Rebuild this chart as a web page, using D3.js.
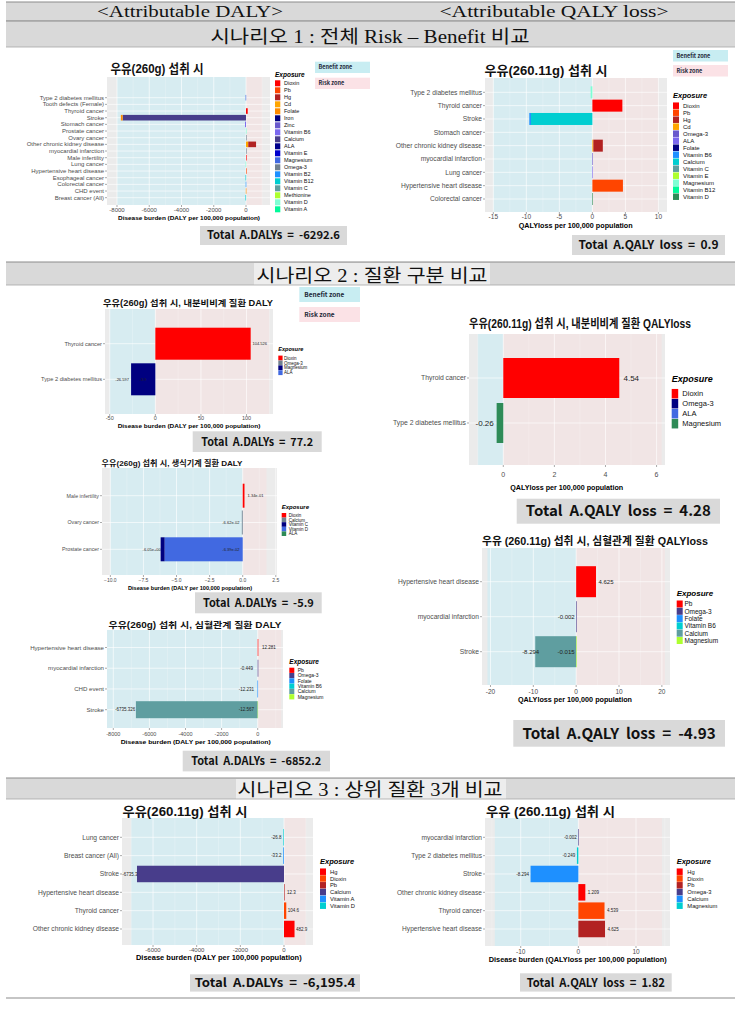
<!DOCTYPE html>
<html>
<head>
<meta charset="utf-8">
<script src="https://cdn.jsdelivr.net/npm/d3@7"></script>
<style>
  body { margin: 0; background: #fff; }
  text { white-space: pre; }
</style>
</head>
<body>
<svg id="fig" width="741" height="1013"></svg>
<script>

// ---------------- data ----------------

// scenario 1, DALY (all diseases)
var s1dCats = ["Type 2 diabetes mellitus", "Tooth defects (Female)", "Thyroid cancer", "Stroke",
  "Stomach cancer", "Prostate cancer", "Ovary cancer", "Other chronic kidney disease",
  "myocardial infarction", "Male infertility", "Lung cancer", "Hypertensive heart disease",
  "Esophageal cancer", "Colorectal cancer", "CHD event", "Breast cancer (All)"];
var s1dExposure = ["Dioxin", "Pb", "Hg", "Cd", "Folate", "Iron", "Zinc", "Vitamin B6", "Calcium", "ALA",
  "Vitamin E", "Magnesium", "Omega-3", "Vitamin B2", "Vitamin B12", "Vitamin C", "Methionine", "Vitamin D", "Vitamin A"];
var s1dBars = [
  ["Type 2 diabetes mellitus", "Magnesium", -26.6],
  ["Thyroid cancer", "Dioxin", 104.5],
  ["Stroke", "Calcium", -7650],
  ["Stroke", "Folate", -110],
  ["Stomach cancer", "Vitamin B6", -60],
  ["Prostate cancer", "Vitamin D", -6.0],
  ["Ovary cancer", "Omega-3", -0.07],
  ["Other chronic kidney disease", "Cd", 140],
  ["Other chronic kidney disease", "Hg", 482.9],
  ["myocardial infarction", "Omega-3", -0.45],
  ["Male infertility", "Dioxin", 0.13],
  ["Lung cancer", "Vitamin D", -26.8],
  ["Hypertensive heart disease", "Pb", 12.3],
  ["Esophageal cancer", "Vitamin B12", -30],
  ["Colorectal cancer", "Vitamin B2", -20],
  ["CHD event", "Folate", -12.2],
  ["Breast cancer (All)", "Vitamin B12", -33.2]
];
var s1dTicks = [-8000, -6000, -4000, -2000, 0];

// scenario 1, QALY loss (all diseases)
var s1qCats = ["Type 2 diabetes mellitus", "Thyroid cancer", "Stroke", "Stomach cancer",
  "Other chronic kidney disease", "myocardial infarction", "Lung cancer",
  "Hypertensive heart disease", "Colorectal cancer"];
var s1qExposure = ["Dioxin", "Pb", "Hg", "Cd", "Omega-3", "ALA", "Folate", "Vitamin B6", "Calcium",
  "Vitamin C", "Vitamin E", "Magnesium", "Vitamin B12", "Vitamin D"];
var s1qBars = [
  ["Type 2 diabetes mellitus", "Magnesium", -0.26],
  ["Thyroid cancer", "Dioxin", 4.54],
  ["Stroke", "Calcium", -9.3],
  ["Stroke", "Vitamin B6", -0.25],
  ["Other chronic kidney disease", "Cd", 0.15],
  ["Other chronic kidney disease", "Hg", 1.43],
  ["myocardial infarction", "Omega-3", -0.002],
  ["Lung cancer", "ALA", -0.03],
  ["Hypertensive heart disease", "Pb", 4.625],
  ["Colorectal cancer", "Vitamin D", -0.03]
];
var s1qTicks = [-15, -10, -5, 0, 5, 10];

// scenario 2, endocrine DALY
var s2eCats = ["Thyroid cancer", "Type 2 diabetes mellitus"];
var s2eExposure = ["Dioxin", "Omega-3", "Magnesium", "ALA"];
var s2eBars = [
  ["Thyroid cancer", "Dioxin", 104.526],
  ["Type 2 diabetes mellitus", "Magnesium", -26.597]
];
var s2eLabels = [["Thyroid cancer", "104.526"], ["Type 2 diabetes mellitus", "-26.597"], ["Type 2 diabetes mellitus", "-3.9"]];
var s2eTicks = [-50, 0, 50, 100];

// scenario 2, reproductive DALY
var s2rCats = ["Male infertility", "Ovary cancer", "Prostate cancer"];
var s2rExposure = ["Dioxin", "Calcium", "Vitamin C", "Vitamin D", "ALA"];
var s2rBars = [
  ["Male infertility", "Dioxin", 0.134],
  ["Ovary cancer", "Calcium", -0.0662],
  ["Prostate cancer", "Vitamin D", -5.9],
  ["Prostate cancer", "Vitamin C", -0.3]
];
var s2rLabels = [["Male infertility", "1.34e-01"], ["Ovary cancer", "-6.62e-02"],
  ["Prostate cancer", "-6.05e+00"], ["Prostate cancer", "-6.39e-02"]];
var s2rTicks = [-10, -7.5, -5, -2.5, 0, 2.5];

// scenario 2, cardiovascular DALY
var s2cCats = ["Hypertensive heart disease", "myocardial infarction", "CHD event", "Stroke"];
var s2cExposure = ["Pb", "Omega-3", "Folate", "Vitamin B6", "Calcium", "Magnesium"];
var s2cBars = [
  ["Hypertensive heart disease", "Pb", 12.281],
  ["myocardial infarction", "Omega-3", -0.449],
  ["CHD event", "Folate", -12.231],
  ["Stroke", "Magnesium", -12.567],
  ["Stroke", "Calcium", -6735.326]
];
var s2cLabels = [["Hypertensive heart disease", "12.281"], ["myocardial infarction", "-0.449"],
  ["CHD event", "-12.231"], ["Stroke", "-12.567"], ["Stroke", "-6735.326"]];
var s2cTicks = [-8000, -6000, -4000, -2000, 0];

// scenario 2, endocrine QALY loss
var s2eqCats = ["Thyroid cancer", "Type 2 diabetes mellitus"];
var s2eqExposure = ["Dioxin", "Omega-3", "ALA", "Magnesium"];
var s2eqBars = [
  ["Thyroid cancer", "Dioxin", 4.54],
  ["Type 2 diabetes mellitus", "Magnesium", -0.26]
];
var s2eqLabels = [["Thyroid cancer", "4.54"], ["Type 2 diabetes mellitus", "-0.26"]];
var s2eqTicks = [0, 2, 4, 6];

// scenario 2, cardiovascular QALY loss
var s2cqCats = ["Hypertensive heart disease", "myocardial infarction", "Stroke"];
var s2cqExposure = ["Pb", "Omega-3", "Folate", "Vitamin B6", "Calcium", "Magnesium"];
var s2cqBars = [
  ["Hypertensive heart disease", "Pb", 4.625],
  ["myocardial infarction", "Omega-3", -0.002],
  ["Stroke", "Magnesium", -0.015],
  ["Stroke", "Calcium", -9.538]
];
var s2cqLabels = [["Hypertensive heart disease", "4.625"], ["myocardial infarction", "-0.002"],
  ["Stroke", "-8.294"], ["Stroke", "-0.015"]];
var s2cqTicks = [-20, -10, 0, 10, 20];

// scenario 3, top 3 diseases DALY
var s3dCats = ["Lung cancer", "Breast cancer (All)", "Stroke", "Hypertensive heart disease",
  "Thyroid cancer", "Other chronic kidney disease"];
var s3dExposure = ["Hg", "Dioxin", "Pb", "Calcium", "Vitamin A", "Vitamin D"];
var s3dBars = [
  ["Lung cancer", "Vitamin D", -26.8],
  ["Breast cancer (All)", "Vitamin A", -33.2],
  ["Stroke", "Calcium", -6735.3],
  ["Hypertensive heart disease", "Pb", 12.3],
  ["Thyroid cancer", "Dioxin", 104.6],
  ["Other chronic kidney disease", "Hg", 482.9]
];
var s3dLabels = [["Lung cancer", "-26.8"], ["Breast cancer (All)", "-33.2"], ["Stroke", "-6735.3"],
  ["Hypertensive heart disease", "12.3"], ["Thyroid cancer", "104.6"], ["Other chronic kidney disease", "482.9"]];
var s3dTicks = [-6000, -4000, -2000, 0];

// scenario 3, top 3 diseases QALY loss
var s3qCats = ["myocardial infarction", "Type 2 diabetes mellitus", "Stroke",
  "Other chronic kidney disease", "Thyroid cancer", "Hypertensive heart disease"];
var s3qExposure = ["Hg", "Dioxin", "Pb", "Omega-3", "Calcium", "Magnesium"];
var s3qBars = [
  ["myocardial infarction", "Omega-3", -0.002],
  ["Type 2 diabetes mellitus", "Magnesium", -0.249],
  ["Stroke", "Calcium", -8.294],
  ["Other chronic kidney disease", "Hg", 1.209],
  ["Thyroid cancer", "Dioxin", 4.539],
  ["Hypertensive heart disease", "Pb", 4.625]
];
var s3qLabels = [["myocardial infarction", "-0.002"], ["Type 2 diabetes mellitus", "-0.249"],
  ["Stroke", "-8.294"], ["Other chronic kidney disease", "1.209"], ["Thyroid cancer", "4.539"],
  ["Hypertensive heart disease", "4.625"]];
var s3qTicks = [-10, 0, 10];

// ---------------- colours (per chart, same order as exposure lists) ----------------
var s1dColors = ["#FF0000", "#FF4500", "#B22222", "#FFA500", "#FF8C00", "#000080", "#6A5ACD", "#7B68EE",
  "#483D8B", "#00008B", "#0000CD", "#4169E1", "#708090", "#1E90FF", "#00CED1", "#5F9EA0", "#ADFF2F", "#7FFFD4", "#00FA9A"];
var s1qColors = ["#FF0000", "#FF4500", "#B22222", "#FFA500", "#6A5ACD", "#7B68EE", "#000080", "#1E90FF",
  "#00CED1", "#5F9EA0", "#ADFF2F", "#7FFFD4", "#00FA9A", "#2E8B57"];
var s2eColors = ["#FF0000", "#708090", "#000080", "#4169E1"];
var s2rColors = ["#FF0000", "#708090", "#000080", "#4169E1", "#2E8B57"];
var s2cColors = ["#FF0000", "#483D8B", "#1E90FF", "#00CED1", "#5F9EA0", "#ADFF2F"];
var s2eqColors = ["#FF0000", "#000080", "#4169E1", "#2E8B57"];
var s3dColors = ["#FF0000", "#FF4500", "#B22222", "#483D8B", "#1E90FF", "#00CED1"];
var s3qColors = ["#FF0000", "#FF4500", "#B22222", "#483D8B", "#1E90FF", "#00CED1"];

var SANS = "'Liberation Sans', Arial, 'Noto Sans CJK KR', sans-serif";
var SERIF = "'Liberation Serif', 'Noto Sans CJK KR', serif";
var BOX = "'Noto Sans CJK KR', 'Open Sans', sans-serif";

var BENEFIT = "#D7ECF1";
var RISK = "#F1E5E5";

var svg = d3.select("#fig");

// ---------------- header bands ----------------
function band(y, h, textBox) {
  svg.append("rect").attr("x", 6).attr("y", y).attr("width", 729).attr("height", h).attr("fill", "#D9D9D9");
  if (textBox) {
    svg.append("rect").attr("x", textBox[0]).attr("y", y + 1).attr("width", textBox[1]).attr("height", h - 1).attr("fill", "#EDEDED");
  }
  svg.append("line").attr("x1", 6).attr("x2", 735).attr("y1", y).attr("y2", y).attr("stroke", "#8C8C8C").attr("stroke-width", 1.2);
  svg.append("line").attr("x1", 6).attr("x2", 735).attr("y1", y + h).attr("y2", y + h).attr("stroke", "#A6A6A6").attr("stroke-width", 0.8);
}
function headText(t, cx, y, w, fs) {
  svg.append("text").attr("x", cx).attr("y", y).attr("text-anchor", "middle")
    .attr("font-family", SERIF).attr("font-size", fs).attr("fill", "#111")
    .attr("textLength", w).attr("lengthAdjust", "spacingAndGlyphs").text(t);
}

band(2, 19);
band(21, 26);
headText("<Attributable DALY>", 190, 17, 186, 16);
headText("<Attributable QALY loss>", 554, 17, 229, 16);
headText("시나리오 1 : 전체 Risk – Benefit 비교", 370, 43, 319, 18);

band(262, 23, [254, 236]);
headText("시나리오 2 : 질환 구분 비교", 372, 282, 231, 18);

band(778, 21, [236, 270]);
headText("시나리오 3 : 상위 질환 3개 비교", 370, 796, 265, 18);

svg.append("line").attr("x1", 6).attr("x2", 735).attr("y1", 998).attr("y2", 998).attr("stroke", "#8C8C8C").attr("stroke-width", 1.2);

// ---------------- one ggplot style bar chart ----------------
function drawChart(c) {
  var g = svg.append("g");
  var px = c.box[0], py = c.box[1], pw = c.box[2], ph = c.box[3];
  var x = d3.scaleLinear().domain(c.domain).range([px, px + pw]);
  var y = d3.scalePoint().domain(c.cats).range(c.yr);
  var color = d3.scaleOrdinal(c.colors).domain(c.exposure);

  // panel + benefit / risk zones
  g.append("rect").attr("x", px).attr("y", py).attr("width", pw).attr("height", ph).attr("fill", "#EBEBEB");
  g.append("rect").attr("x", x(c.benefit)).attr("y", py).attr("width", x(0) - x(c.benefit)).attr("height", ph).attr("fill", BENEFIT);
  g.append("rect").attr("x", x(0)).attr("y", py).attr("width", x(c.risk) - x(0)).attr("height", ph).attr("fill", RISK);

  // grid lines
  var step = c.ticks[1] - c.ticks[0];
  var minor = d3.range(c.ticks[0] - step * 1.5, c.domain[1], step).filter(function(v) { return v > c.domain[0] && v < c.domain[1]; });
  var major = d3.range(c.ticks[0] - step, c.domain[1], step).filter(function(v) { return v > c.domain[0] && v < c.domain[1]; });
  g.selectAll(".gmin").data(minor).enter().append("line")
    .attr("x1", function(d) { return x(d); }).attr("x2", function(d) { return x(d); })
    .attr("y1", py).attr("y2", py + ph).attr("stroke", "#fff").attr("stroke-opacity", 0.55).attr("stroke-width", 0.4);
  g.selectAll(".gmaj").data(major).enter().append("line")
    .attr("x1", function(d) { return x(d); }).attr("x2", function(d) { return x(d); })
    .attr("y1", py).attr("y2", py + ph).attr("stroke", "#fff").attr("stroke-opacity", 0.8).attr("stroke-width", 0.8);
  g.selectAll(".gy").data(c.cats).enter().append("line")
    .attr("x1", px).attr("x2", px + pw)
    .attr("y1", function(d) { return y(d); }).attr("y2", function(d) { return y(d); })
    .attr("stroke", "#fff").attr("stroke-opacity", 0.8).attr("stroke-width", 0.8);

  // stacked bars, positives and negatives stacked apart like ggplot
  var pos = {}, neg = {};
  var segs = c.bars.map(function(b) {
    var cat = b[0], v = b[2];
    var base = v >= 0 ? (pos[cat] || 0) : (neg[cat] || 0);
    var end = base + v;
    if (v >= 0) pos[cat] = end; else neg[cat] = end;
    return { cat: cat, exp: b[1], a: Math.min(base, end), b: Math.max(base, end) };
  });
  g.selectAll(".bar").data(segs).enter().append("rect")
    .attr("x", function(d) { return x(d.a); })
    .attr("y", function(d) { return y(d.cat) - c.bh / 2; })
    .attr("width", function(d) { return Math.max(0.6, x(d.b) - x(d.a)); })
    .attr("height", c.bh)
    .attr("fill", function(d) { return color(d.exp); });

  // value labels
  if (c.labels) {
    g.selectAll(".vl").data(c.labels).enter().append("text")
      .attr("x", function(d) { var v = +d[1]; return x(v) + (v >= 0 ? c.nudge : -c.nudge); })
      .attr("y", function(d) { return y(d[0]) + c.lfs * 0.35; })
      .attr("text-anchor", "middle").attr("font-family", SANS).attr("font-size", c.lfs)
      .attr("fill", "#222").text(function(d) { return d[1]; });
  }

  // y axis
  g.selectAll(".yl").data(c.cats).enter().append("text")
    .attr("x", px - 3).attr("y", function(d) { return y(d) + c.yfs * 0.35; })
    .attr("text-anchor", "end").attr("font-family", SANS).attr("font-size", c.yfs)
    .attr("fill", "#4D4D4D").text(function(d) { return d; });
  g.selectAll(".yt").data(c.cats).enter().append("line")
    .attr("x1", px - 2).attr("x2", px).attr("y1", function(d) { return y(d); }).attr("y2", function(d) { return y(d); })
    .attr("stroke", "#555").attr("stroke-width", 0.5);

  // x axis
  g.selectAll(".xt").data(c.ticks).enter().append("line")
    .attr("x1", function(d) { return x(d); }).attr("x2", function(d) { return x(d); })
    .attr("y1", py + ph).attr("y2", py + ph + 2).attr("stroke", "#555").attr("stroke-width", 0.5);
  g.selectAll(".xl").data(c.ticks).enter().append("text")
    .attr("x", function(d) { return x(d); }).attr("y", c.tickY)
    .attr("text-anchor", "middle").attr("font-family", SANS).attr("font-size", c.tfs)
    .attr("fill", "#4D4D4D").text(function(d) { return c.tickFmt ? d3.format(c.tickFmt)(d) : d; });
  g.append("text").attr("x", c.axis[0]).attr("y", c.axis[1]).attr("text-anchor", "middle")
    .attr("font-family", SANS).attr("font-size", c.axis[3]).attr("font-weight", "bold")
    .attr("textLength", c.axis[2]).attr("lengthAdjust", "spacingAndGlyphs").text(c.axisTitle);

  // title
  g.append("text").attr("x", c.title[0]).attr("y", c.title[1]).attr("text-anchor", "middle")
    .attr("font-family", SANS).attr("font-size", c.title[3]).attr("font-weight", "bold").attr("fill", "#111")
    .attr("textLength", c.title[2]).attr("lengthAdjust", "spacingAndGlyphs").text(c.titleText);

  // legend
  var L = c.legend;
  g.append("text").attr("x", L.x).attr("y", L.ty).attr("font-family", SANS).attr("font-size", L.tfs)
    .attr("font-weight", "bold").attr("font-style", "italic").text("Exposure");
  g.selectAll(".lk").data(c.exposure).enter().append("rect")
    .attr("x", L.x).attr("y", function(d, i) { return L.y0 + i * L.step - L.kh / 2; })
    .attr("width", L.kw).attr("height", L.kh).attr("fill", function(d) { return color(d); });
  g.selectAll(".lt").data(c.exposure).enter().append("text")
    .attr("x", L.lx).attr("y", function(d, i) { return L.y0 + i * L.step + L.fs * 0.36; })
    .attr("font-family", SANS).attr("font-size", L.fs).attr("fill", "#111").text(function(d) { return d; });

  // benefit / risk zone keys
  if (c.zones) {
    var Z = c.zones;
    [["Benefit zone", "#C8EDF2", Z.y1], ["Risk zone", "#FBE2E6", Z.y2]].forEach(function(z) {
      g.append("rect").attr("x", Z.x).attr("y", z[2]).attr("width", Z.w).attr("height", Z.h).attr("fill", z[1]);
      g.append("text").attr("x", Z.x + Z.pad).attr("y", z[2] + Z.h / 2 + Z.fs * 0.36)
        .attr("font-family", BOX).attr("font-size", Z.fs).attr("font-weight", "bold").attr("fill", "#1F2A3A").text(z[0]);
    });
  }

  // total box
  var T = c.total;
  g.append("rect").attr("x", T.x).attr("y", T.y).attr("width", T.w).attr("height", T.h).attr("fill", "#D9D9D9");
  g.append("text").attr("x", T.x + T.w / 2).attr("y", T.y + T.h / 2 + T.fs * 0.36).attr("text-anchor", "middle")
    .attr("font-family", BOX).attr("font-size", T.fs).attr("font-weight", "bold").attr("fill", "#111")
    .attr("textLength", T.tw).attr("lengthAdjust", "spacingAndGlyphs").text(T.text);
}

// ---------------- the nine panels ----------------
drawChart({
  cats: s1dCats, bars: s1dBars, exposure: s1dExposure, colors: s1dColors, ticks: s1dTicks,
  box: [107, 77, 163, 128], domain: [-8620, 1488], benefit: -8000, risk: 1000,
  yr: [97.7, 197.7], bh: 5.6, yfs: 6, tfs: 6, tickY: 211.5,
  axisTitle: "Disease burden (DALY per 100,000 population)", axis: [189, 219.5, 142, 6],
  titleText: "우유(260g) 섭취 시", title: [157, 73, 93, 13],
  legend: { x: 275, ty: 77, tfs: 6.5, y0: 83.3, step: 7, kw: 5.3, kh: 6, lx: 284, fs: 5.5 },
  zones: { x: 315, y1: 61.7, y2: 77.7, w: 55, h: 11.3, pad: 3.5, fs: 5.5 },
  total: { x: 200, y: 226, w: 147, h: 19, fs: 11, tw: 133, text: "Total  A.DALYs  =  -6292.6" }
});

drawChart({
  cats: s1qCats, bars: s1qBars, exposure: s1qExposure, colors: s1qColors, ticks: s1qTicks,
  box: [485, 78, 182, 134], domain: [-16.26, 11.3], benefit: -15, risk: 10,
  yr: [92.3, 199], bh: 12, yfs: 6.7, tfs: 6.5, tickY: 219,
  axisTitle: "QALYloss per 100,000 population", axis: [575.7, 227.5, 114, 6.5],
  titleText: "우유(260.11g) 섭취 시", title: [546, 74.5, 123, 13],
  legend: { x: 673, ty: 98.3, tfs: 7.5, y0: 105.7, step: 7, kw: 6, kh: 6.5, lx: 683, fs: 6 },
  zones: { x: 673, y1: 50, y2: 65, w: 55, h: 11.5, pad: 3.5, fs: 5.5 },
  total: { x: 572, y: 235, w: 153, h: 20, fs: 11.5, tw: 140, text: "Total  A.QALY  loss  =  0.9" }
});

drawChart({
  cats: s2eCats, bars: s2eBars, labels: s2eLabels, exposure: s2eExposure, colors: s2eColors, ticks: s2eTicks,
  box: [105, 309, 168, 105], domain: [-55.2, 129], benefit: -50, risk: 125,
  yr: [343.7, 379.3], bh: 32, yfs: 5.7, tfs: 5.5, tickY: 420, lfs: 4, nudge: 9,
  axisTitle: "Disease burden (DALY per 100,000 population)", axis: [189, 427.5, 142.7, 5.5],
  titleText: "우유(260g) 섭취 시, 내분비비계 질환 DALY", title: [188, 306, 170, 8.5],
  legend: { x: 278.3, ty: 351.3, tfs: 5.5, y0: 358, step: 4.9, kw: 4.3, kh: 4.8, lx: 284, fs: 4.5 },
  zones: { x: 299.3, y1: 287, y2: 307, w: 60.7, h: 15, pad: 5, fs: 6.5 },
  total: { x: 192.7, y: 431.3, w: 129, h: 20.7, fs: 11, tw: 111.7, text: "Total  A.DALYs  =  77.2" }
});

drawChart({
  cats: s2rCats, bars: s2rBars, labels: s2rLabels, exposure: s2rExposure, colors: s2rColors, ticks: s2rTicks,
  box: [102, 468, 175, 107], domain: [-10.63, 2.59], benefit: -10, risk: 1.8,
  yr: [495.7, 549.3], bh: 24, yfs: 5.3, tfs: 5, tickY: 582, lfs: 4, nudge: 11, tickFmt: ".1f",
  axisTitle: "Disease burden (DALY per 100,000 population)", axis: [190, 589.5, 124, 5],
  titleText: "우유(260g) 섭취 시, 생식기계 질환 DALY", title: [172, 465.5, 141, 8],
  legend: { x: 281.7, ty: 509, tfs: 6, y0: 515.3, step: 4.6, kw: 4.5, kh: 4.6, lx: 288.7, fs: 4.5 },
  total: { x: 195, y: 592.3, w: 126.7, h: 21, fs: 11, tw: 110.7, text: "Total  A.DALYs  =  -5.9" }
});

drawChart({
  cats: s2cCats, bars: s2cBars, labels: s2cLabels, exposure: s2cExposure, colors: s2cColors, ticks: s2cTicks,
  box: [107, 630, 176, 98], domain: [-8349, 1402], benefit: -8349, risk: 1300,
  yr: [647.5, 709.7], bh: 17, yfs: 6.1, tfs: 5.5, tickY: 736, lfs: 4.5, nudge: 11,
  axisTitle: "Disease burden (DALY per 100,000 population)", axis: [195.7, 743.5, 150, 6],
  titleText: "우유(260g) 섭취 시, 심혈관계 질환 DALY", title: [195, 628, 173, 8.5],
  legend: { x: 289.3, ty: 664, tfs: 6.5, y0: 670.3, step: 5.3, kw: 5, kh: 5.2, lx: 297.7, fs: 5 },
  total: { x: 182.7, y: 750.7, w: 147.3, h: 20.7, fs: 11, tw: 130, text: "Total  A.DALYs  =  -6852.2" }
});

drawChart({
  cats: s2eqCats, bars: s2eqBars, labels: s2eqLabels, exposure: s2eqExposure, colors: s2eqColors, ticks: s2eqTicks,
  box: [469, 334, 196, 131], domain: [-1.342, 6.33], benefit: -1, risk: 6.2,
  yr: [378, 423], bh: 40, yfs: 6.8, tfs: 7, tickY: 477, lfs: 8, nudge: 12,
  axisTitle: "QALYloss per 100,000 population", axis: [566.7, 489.5, 113, 7],
  titleText: "우유(260.11g) 섭취 시, 내분비비계 질환 QALYloss", title: [580, 328, 222, 12.5],
  legend: { x: 671.7, ty: 382, tfs: 9, y0: 393.7, step: 10, kw: 6.5, kh: 9.5, lx: 682.3, fs: 7.5 },
  total: { x: 516.7, y: 498.7, w: 203.3, h: 25, fs: 14.5, tw: 185, text: "Total  A.QALY  loss  =  4.28" }
});

drawChart({
  cats: s2cqCats, bars: s2cqBars, labels: s2cqLabels,
  exposure: s2cqExposure, colors: s2cColors, ticks: s2cqTicks,
  box: [482, 548, 188, 137], domain: [-21.98, 21.9], benefit: -20.7, risk: 20.7,
  yr: [581.7, 651.7], bh: 31, yfs: 6.7, tfs: 6.5, tickY: 694, lfs: 6, nudge: 10,
  axisTitle: "QALYloss per 100,000 population", axis: [575, 701.5, 114, 6.5],
  titleText: "우유 (260.11g) 섭취 시, 심혈관계 질환 QALYloss", title: [595, 545, 226, 11],
  legend: { x: 676.7, ty: 596, tfs: 8, y0: 604, step: 7.3, kw: 6, kh: 7, lx: 684.5, fs: 6.5 },
  total: { x: 513.3, y: 720, w: 211.7, h: 26.7, fs: 15, tw: 193.3, text: "Total  A.QALY  loss  =  -4.93" }
});

drawChart({
  cats: s3dCats, bars: s3dBars, labels: s3dLabels, exposure: s3dExposure, colors: s3dColors, ticks: s3dTicks,
  box: [122, 818, 191, 127], domain: [-7422, 1329], benefit: -7000, risk: 1000,
  yr: [837.3, 929], bh: 16.5, yfs: 6.7, tfs: 6, tickY: 952, lfs: 4.5, nudge: 7,
  axisTitle: "Disease burden (DALY per 100,000 population)", axis: [218.8, 960.3, 165.7, 6.5],
  titleText: "우유(260.11g) 섭취 시", title: [185, 815.5, 125, 13],
  legend: { x: 320, ty: 863.7, tfs: 7.5, y0: 871.7, step: 6.8, kw: 6, kh: 6.5, lx: 330, fs: 5.8 },
  total: { x: 190, y: 974.3, w: 170, h: 17.3, fs: 12, tw: 160.7, text: "Total  A.DALYs  =  -6,195.4" }
});

drawChart({
  cats: s3qCats, bars: s3qBars, labels: s3qLabels, exposure: s3qExposure, colors: s3qColors, ticks: s3qTicks,
  box: [485, 818, 185, 128], domain: [-16.2, 15.9], benefit: -14.5, risk: 14.5,
  yr: [837.3, 929], bh: 16.5, yfs: 6.6, tfs: 6.5, tickY: 953.5, lfs: 4.5, nudge: 8,
  axisTitle: "Disease burden (QALYloss per 100,000 population)", axis: [577.7, 962, 178, 6.5],
  titleText: "우유 (260.11g) 섭취 시", title: [550.5, 815.5, 129, 13],
  legend: { x: 676.7, ty: 863.7, tfs: 7.5, y0: 871.7, step: 6.8, kw: 6, kh: 6.5, lx: 687.3, fs: 5.8 },
  total: { x: 520, y: 973.3, w: 151.7, h: 18.3, fs: 12, tw: 138.3, text: "Total  A.QALY  loss  =  1.82" }
});

</script>
</body>
</html>
